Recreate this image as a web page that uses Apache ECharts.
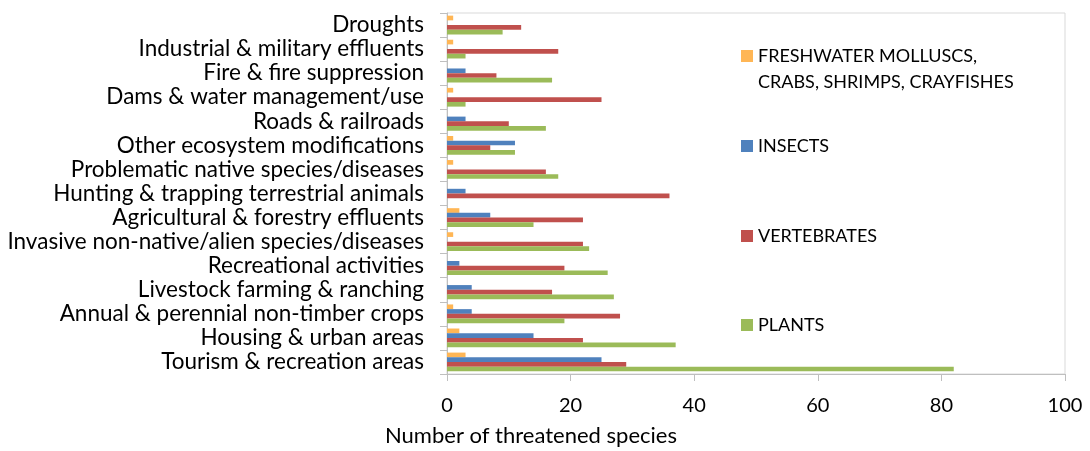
<!DOCTYPE html>
<html>
<head>
<meta charset="utf-8">
<script src="https://cdn.jsdelivr.net/npm/echarts@6/dist/echarts.min.js"></script>
<style>html,body{margin:0;padding:0;background:#fff}#c{width:1090px;height:451px}</style>
</head>
<body>
<div id="c"></div>
<script>
const categories = [
  'Tourism & recreation areas',
  'Housing & urban areas',
  'Annual & perennial non-timber crops',
  'Livestock farming & ranching',
  'Recreational activities',
  'Invasive non-native/alien species/diseases',
  'Agricultural & forestry effluents',
  'Hunting & trapping terrestrial animals',
  'Problematic native species/diseases',
  'Other ecosystem modifications',
  'Roads & railroads',
  'Dams & water management/use',
  'Fire & fire suppression',
  'Industrial & military effluents',
  'Droughts'
];
const freshwater = [3, 2, 1, 0, 0, 1, 2, 0, 1, 1, 0, 1, 0, 1, 1];
const insects    = [25, 14, 4, 4, 2, 0, 7, 3, 0, 11, 3, 0, 3, 0, 0];
const vertebrates= [29, 22, 28, 17, 19, 22, 22, 36, 16, 7, 10, 25, 8, 18, 12];
const plants     = [82, 37, 19, 27, 26, 23, 14, 0, 18, 11, 16, 3, 17, 3, 9];
const seriesNames = ['FRESHWATER MOLLUSCS,\nCRABS, SHRIMPS, CRAYFISHES', 'INSECTS', 'VERTEBRATES', 'PLANTS'];
const xTicks = [0, 20, 40, 60, 80, 100];
const xAxisName = 'Number of threatened species';

const colors = ['#FFB655', '#4F81BD', '#C0504D', '#9BBB59'];
const FONT = 'Lato';
const chart = echarts.init(document.getElementById('c'), null, {renderer: 'canvas'});

const LH = 26;
const legendTops = [56, 146, 236, 325];
const legends = seriesNames.map((n, i) => ({
  orient: 'vertical',
  left: 741,
  top: i === 0 ? legendTops[i] - 1.5 * LH : legendTops[i] - LH / 2,
  padding: 0,
  itemWidth: 12,
  itemHeight: 12,
  itemGap: 0,
  icon: 'rect',
  data: [n],
  selectedMode: false,
  formatter: i === 0 ? (name => ' \n' + name) : undefined,
  textStyle: {fontFamily: FONT, fontSize: 18, color: '#000', lineHeight: LH}
}));

const data = [freshwater, insects, vertebrates, plants];
chart.setOption({
  animation: false,
  color: colors,
  title: {
    text: xAxisName, left: 385, top: 425, padding: 0,
    textStyle: {fontFamily: FONT, fontSize: 22, fontWeight: 'normal', color: '#000'}
  },
  legend: legends,
  grid: {left: 447, right: 25, top: 13, bottom: 77, show: true, borderColor: '#d9d9d9', borderWidth: 1},
  xAxis: {
    type: 'value', min: xTicks[0], max: xTicks[xTicks.length - 1], interval: 20,
    splitLine: {show: false},
    axisLine: {show: true, lineStyle: {color: '#bfbfbf'}},
    axisTick: {show: true, length: 7, lineStyle: {color: '#bfbfbf'}},
    axisLabel: {fontFamily: FONT, fontSize: 20, color: '#000', margin: 22}
  },
  yAxis: {
    type: 'category', data: categories,
    axisLine: {show: true, lineStyle: {color: '#bfbfbf'}},
    axisTick: {show: true, length: 7, interval: 0, lineStyle: {color: '#bfbfbf'}},
    axisLabel: {fontFamily: FONT, fontSize: 22.5, color: '#000', margin: 23, interval: 0, hideOverlap: false}
  },
  series: data.map((d, i) => ({
    name: seriesNames[i], type: 'bar', data: d,
    barGap: '0%', barCategoryGap: '22%'
  }))
});
</script>
</body>
</html>
